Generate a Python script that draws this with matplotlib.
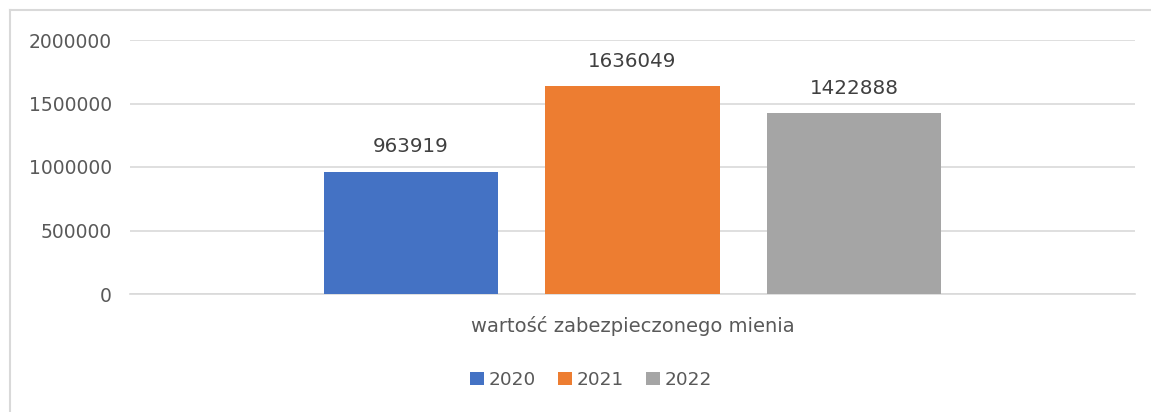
import matplotlib
matplotlib.use("Agg")
import matplotlib.pyplot as plt
from matplotlib.lines import Line2D
import numpy as np

category = "wartość zabezpieczonego mienia"
years = ["2020", "2021", "2022"]
values = [963919, 1636049, 1422888]
colors = ["#4472C4", "#ED7D31", "#A5A5A5"]
yticks = [0, 500000, 1000000, 1500000, 2000000]

plt.rcParams['font.family'] = ['DejaVu Sans']
W, H = 1151, 412
fig = plt.figure(figsize=(W/100, H/100), dpi=100)
fig.patch.set_facecolor("white")
# chart area border (only top and left visible in the reference)
fig.add_artist(Line2D([9.5/W, 9.5/W], [0, 1-10/H], transform=fig.transFigure, color="#D9D9D9", lw=1.5))
fig.add_artist(Line2D([9.5/W, 1], [1-10/H, 1-10/H], transform=fig.transFigure, color="#D9D9D9", lw=1.5))

ax = fig.add_axes([130/W, 1-294/H, (1135-130)/W, (294-40)/H])
n = len(values)
pos = np.arange(n) - (n-1)/2
bw = 0.786
for p, v, c, lab in zip(pos, values, colors, years):
    ax.bar(p, v, width=bw, color=c, label=lab, zorder=3)
    ax.text(p, v + 120000, f"{v}", ha="center", va="bottom", fontsize=14.3, color="#404040")
ax.set_xlim(-2.2686, 2.2686)
ax.set_ylim(0, 2000000)
ax.set_yticks(yticks)
ax.set_yticklabels([str(t) for t in yticks], fontsize=13.5, color="#595959")
ax.yaxis.grid(True, color="#D9D9D9", linewidth=1.2, zorder=0)
ax.tick_params(axis="y", length=0, pad=13)
ax.set_xticks([0])
ax.set_xticklabels([category], fontsize=14, color="#595959")
ax.tick_params(axis="x", length=0, pad=16)
for s in ["top", "right", "left"]:
    ax.spines[s].set_visible(False)
ax.spines["bottom"].set_color("#D9D9D9")
ax.spines["bottom"].set_linewidth(1.2)

leg = fig.legend(loc="center", bbox_to_anchor=(591/W, 1-380/H), ncol=3, frameon=False,
                 fontsize=13.3, handlelength=0.75, handleheight=0.75, handletextpad=0.25,
                 columnspacing=1.2)
for t in leg.get_texts():
    t.set_color("#595959")

fig.savefig("out.png", dpi=100, facecolor="white")
